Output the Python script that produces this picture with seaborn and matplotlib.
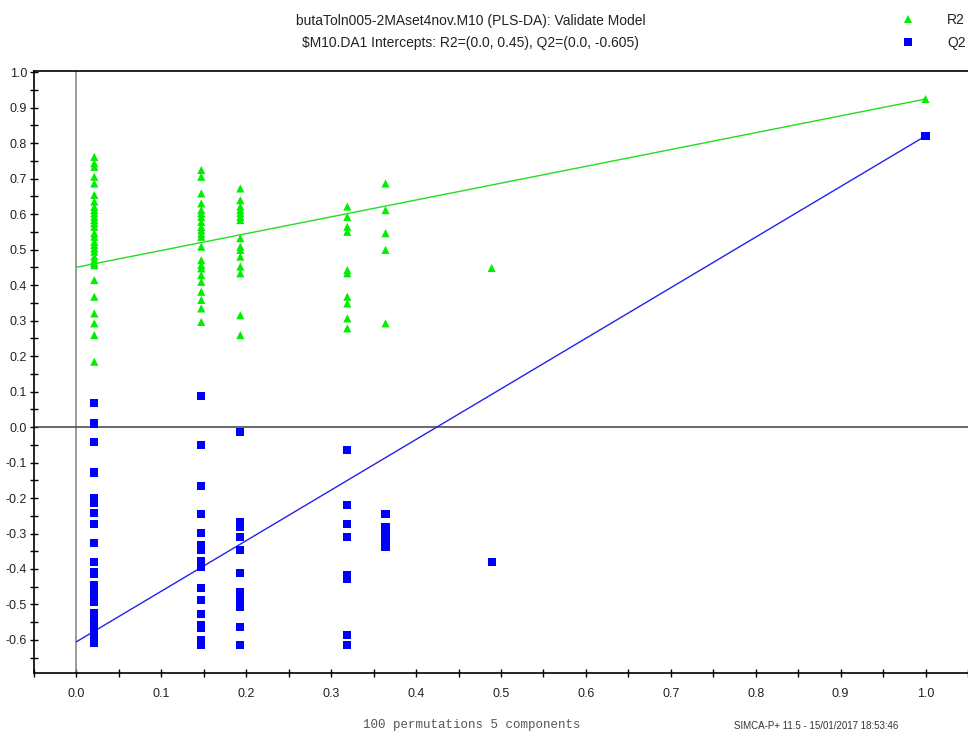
import matplotlib
matplotlib.use("Agg")
import matplotlib.pyplot as plt
from matplotlib.ticker import MultipleLocator, FormatStrFormatter
import seaborn as sns
import pandas as pd

# Correlation of permuted Y with original Y, per permutation group
corr_levels = [0.021, 0.147, 0.193, 0.319, 0.364, 0.489, 1.0]

# R2 values for each correlation level
r2_g1 = [0.761, 0.743, 0.733, 0.705, 0.686, 0.654, 0.635, 0.620, 0.611, 0.602,
         0.592, 0.583, 0.574, 0.564, 0.546, 0.536, 0.522, 0.513, 0.503, 0.494,
         0.480, 0.470, 0.456, 0.462, 0.414, 0.367, 0.320, 0.292, 0.259, 0.184]
r2_g2 = [0.724, 0.705, 0.658, 0.630, 0.611, 0.602, 0.592, 0.578, 0.564, 0.555,
         0.545, 0.536, 0.508, 0.470, 0.456, 0.447, 0.428, 0.409, 0.381, 0.358,
         0.334, 0.296]
r2_g3 = [0.672, 0.639, 0.621, 0.611, 0.602, 0.592, 0.583, 0.532, 0.508, 0.499,
         0.480, 0.452, 0.433, 0.315, 0.259]
r2_g4 = [0.621, 0.592, 0.564, 0.550, 0.442, 0.433, 0.367, 0.348, 0.306, 0.278]
r2_g5 = [0.686, 0.611, 0.546, 0.499, 0.292]
r2_g6 = [0.448]
r2_orig = [0.924]

# Q2 values for each correlation level
q2_g1 = [0.067, 0.010, -0.041, -0.128, -0.201, -0.213, -0.243, -0.274, -0.326,
         -0.381, -0.408, -0.414, -0.445, -0.468, -0.483, -0.492, -0.525, -0.548,
         -0.563, -0.577, -0.591, -0.609]
q2_g2 = [0.087, -0.051, -0.166, -0.245, -0.299, -0.332, -0.346, -0.379, -0.394,
         -0.454, -0.487, -0.528, -0.558, -0.567, -0.600, -0.614]
q2_g3 = [-0.015, -0.267, -0.281, -0.309, -0.346, -0.412, -0.466, -0.487, -0.506,
         -0.563, -0.614]
q2_g4 = [-0.065, -0.220, -0.273, -0.309, -0.417, -0.429, -0.586, -0.614]
q2_g5 = [-0.245, -0.281, -0.292, -0.314, -0.339]
q2_g6 = [-0.380]
q2_orig = [0.820]

r2_intercept = 0.45
q2_intercept = -0.605

r2_groups = [r2_g1, r2_g2, r2_g3, r2_g4, r2_g5, r2_g6, r2_orig]
q2_groups = [q2_g1, q2_g2, q2_g3, q2_g4, q2_g5, q2_g6, q2_orig]

rows = []
for c, vals in zip(corr_levels, r2_groups):
    rows += [(c, v, "R2") for v in vals]
for c, vals in zip(corr_levels, q2_groups):
    rows += [(c, v, "Q2") for v in vals]
df = pd.DataFrame(rows, columns=["corr", "value", "series"])

lines = pd.DataFrame({
    "corr": [0.0, 1.0, 0.0, 1.0],
    "value": [r2_intercept, r2_orig[0], q2_intercept, q2_orig[0]],
    "series": ["R2", "R2", "Q2", "Q2"],
})

sns.set_style("ticks")
plt.rcParams["font.family"] = ["Liberation Sans", "DejaVu Sans"]

fig = plt.figure(figsize=(9.68, 7.33), dpi=100)
ax = fig.add_axes([34 / 968, 1 - 673 / 733, 1 - 34 / 968, (673 - 71) / 733])

palette = {"R2": "#00ee00", "Q2": "#0000ff"}
line_palette = {"R2": "#22dd22", "Q2": "#2222ee"}

ax.axvline(0, color="#808080", lw=1.1, zorder=1)
ax.axhline(0, color="#404040", lw=1.1, zorder=1)

sns.lineplot(data=lines, x="corr", y="value", hue="series", palette=line_palette,
             lw=1.0, legend=False, ax=ax, zorder=2)
sns.scatterplot(data=df, x="corr", y="value", hue="series", style="series",
                markers={"R2": "^", "Q2": "s"}, palette=palette, s=34,
                edgecolor="none", linewidth=0, hue_order=["R2", "Q2"],
                ax=ax, zorder=3)

ax.set_xlim(-0.05, 1.05)
ax.set_ylim(-0.693, 1.003)
ax.xaxis.set_major_locator(MultipleLocator(0.1))
ax.xaxis.set_minor_locator(MultipleLocator(0.05))
ax.yaxis.set_major_locator(MultipleLocator(0.1))
ax.yaxis.set_minor_locator(MultipleLocator(0.05))
ax.xaxis.set_major_formatter(FormatStrFormatter("%.1f"))
ax.yaxis.set_major_formatter(FormatStrFormatter("%.1f"))
ax.tick_params(axis="both", which="both", direction="inout", length=6, width=1,
               color="black", labelsize=9, labelcolor="#222222",
               bottom=True, left=True, top=False, right=False)
ax.tick_params(axis="y", which="both", pad=2)
ax.tick_params(axis="x", which="both", pad=8)
ax.set_xlabel("")
ax.set_ylabel("")
for side in ["left", "bottom", "top"]:
    ax.spines[side].set_visible(True)
    ax.spines[side].set_color("black")
    ax.spines[side].set_linewidth(1.2)
ax.spines["right"].set_visible(False)

# Legend at top right, outside the axes
leg = ax.legend(loc="upper left", bbox_to_anchor=(882 / 968, 1.0),
                bbox_transform=fig.transFigure, frameon=False,
                handletextpad=1.8, fontsize=10, labelspacing=0.65,
                markerscale=0.9)
for t in leg.get_texts():
    t.set_color("#222222")

fig.text(0.486, 0.972, "butaToln005-2MAset4nov.M10 (PLS-DA): Validate Model",
         ha="center", va="center", fontsize=10, color="#222222")
fig.text(0.486, 0.942, "$M10.DA1 Intercepts: R2=(0.0, 0.45), Q2=(0.0, -0.605)",
         ha="center", va="center", fontsize=10, color="#222222")
fig.text(0.487, 0.011, "100 permutations 5 components", ha="center",
         va="center", fontsize=9, color="#555555",
         family=["Liberation Mono", "DejaVu Sans Mono"])
fig.text(0.758, 0.009, "SIMCA-P+ 11.5 - 15/01/2017 18:53:46", ha="left",
         va="center", fontsize=7, color="#333333")

fig.savefig("out.png", dpi=100)
